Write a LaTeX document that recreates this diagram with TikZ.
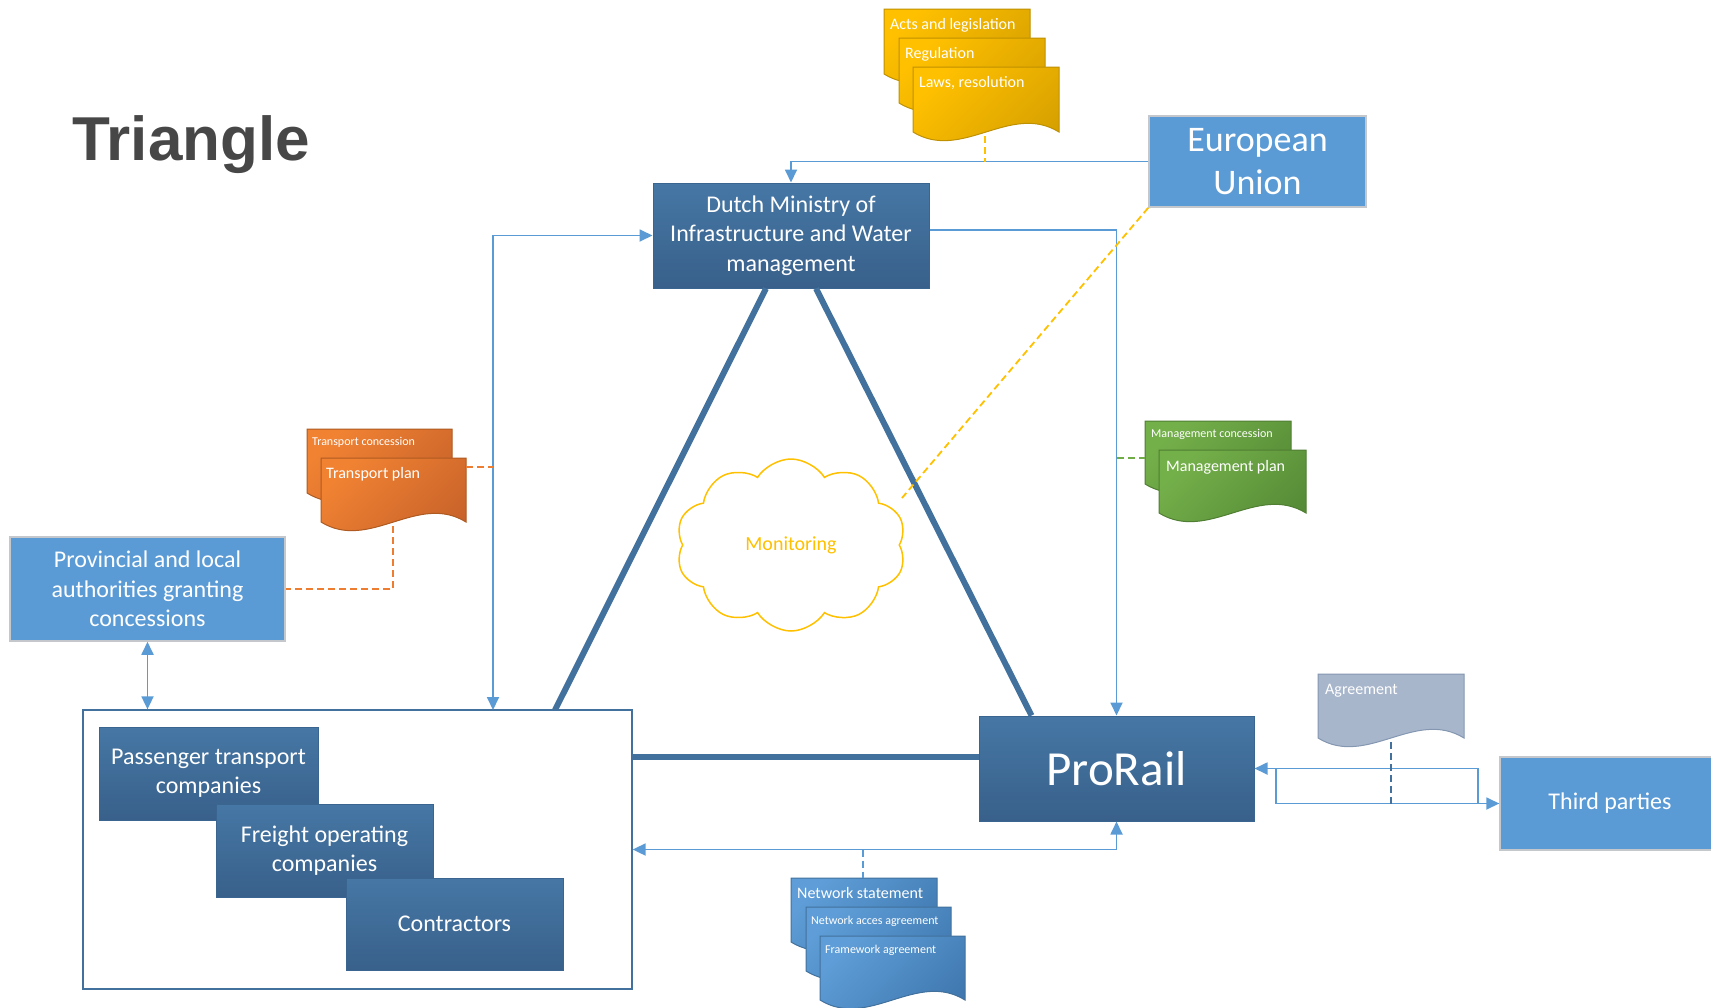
\documentclass[tikz,border=0pt]{standalone}
\usepackage{fontspec}
\setmainfont{Carlito}
\newfontfamily\titlefont{Liberation Sans}
\usetikzlibrary{arrows.meta,shapes.symbols,calc}
\definecolor{lblue}{HTML}{5B9BD5}
\definecolor{lightedge}{HTML}{C4C8CC}
\definecolor{dboxtop}{HTML}{4677A5}
\definecolor{dboxbot}{HTML}{38608A}
\definecolor{dboxedge}{HTML}{3A6590}
\definecolor{triblue}{HTML}{41719C}
\definecolor{ytop}{HTML}{FFC000}
\definecolor{ybot}{HTML}{D6A000}
\definecolor{yedge}{HTML}{BF9000}
\definecolor{otop}{HTML}{F08232}
\definecolor{obot}{HTML}{C8622A}
\definecolor{oedge}{HTML}{AE5A21}
\definecolor{orangel}{HTML}{ED7D31}
\definecolor{gtop}{HTML}{74B04A}
\definecolor{gbot}{HTML}{558A36}
\definecolor{gedge}{HTML}{507E32}
\definecolor{greenl}{HTML}{70AD47}
\definecolor{agfill}{HTML}{A8B6CC}
\definecolor{agedge}{HTML}{8497B0}
\definecolor{ntop}{HTML}{5E9DD7}
\definecolor{nbot}{HTML}{3F77AE}
\definecolor{nedge}{HTML}{41719C}
\definecolor{titlegray}{HTML}{474747}
\newcommand\docshape[5]{%
  \path[#1] (#2,#3) -- ({#2+#4},#3) -- ({#2+#4},{#3+#5})
    .. controls ({#2+#4*2/3},{#3+#5-30}) and ({#2+#4/3},{#3+#5+30}) .. (#2,{#3+#5}) -- cycle;}
\newcommand\fsz[2]{\fontsize{#1}{#2}\selectfont}
\tikzset{
  darkbox/.style={draw=dboxedge, line width=1pt, top color=dboxtop, bottom color=dboxbot,
    text=white, align=center, inner sep=0pt},
  lightbox/.style={draw=lightedge, line width=1.5pt, fill=lblue, text=white, align=center, inner sep=0pt},
  conn/.style={draw=lblue, line width=1.8pt},
  triline/.style={draw=triblue, line width=6pt},
  dashy/.style={dash pattern=on 7pt off 4pt, line width=1.8pt},
  doctext/.style={anchor=base west, inner sep=0pt, text=white},
  ydoc/.style={draw=yedge, line width=1pt, top color=ytop, bottom color=ybot, shading angle=45},
  odoc/.style={draw=oedge, line width=1pt, top color=otop, bottom color=obot, shading angle=45},
  gdoc/.style={draw=gedge, line width=1pt, top color=gtop, bottom color=gbot, shading angle=45},
  adoc/.style={draw=agedge, line width=1pt, fill=agfill},
  ndoc/.style={draw=nedge, line width=1pt, top color=ntop, bottom color=nbot, shading angle=45},
  >={Triangle[length=13pt,width=12pt]}
}
\begin{document}
\begin{tikzpicture}[x=1pt,y=-1pt]
\useasboundingbox (0,0) rectangle (1711,1007);

% title
\node[anchor=base west, inner sep=0pt, text=titlegray, font=\titlefont\bfseries\fsz{62}{70}] (title) at (72,160) {Triangle};

% main boxes
\node[darkbox, minimum width=276pt, minimum height=105pt, font=\fsz{24}{29.5}] (min) at (791,235.5)
  {Dutch Ministry of\\Infrastructure and Water\\management};
\node[lightbox, minimum width=217pt, minimum height=91pt, font=\fsz{36}{43.5}] (eu) at (1257.5,161.5)
  {European\\Union};
\node[darkbox, minimum width=275pt, minimum height=105pt, font=\fsz{49}{56}] (pro) at (1116.5,768.5)
  {ProRail};
\node[lightbox, minimum width=220pt, minimum height=93pt, font=\fsz{24}{29}] (third) at (1610,803.5)
  {Third parties};
\node[lightbox, minimum width=275pt, minimum height=104pt, font=\fsz{24}{29.5}] (prov) at (147.5,589)
  {Provincial and local\\authorities granting\\concessions};

% triangle
\draw[triline] ([xshift=-25pt]min.south) -- (555,710);
\draw[triline] ([xshift=25pt]min.south) -- ([xshift=-85pt]pro.north);

% operators group
\node[draw=triblue, line width=1.3pt, fill=white, minimum width=549pt, minimum height=279pt, inner sep=0pt] (grp) at (357.5,849.5) {};
\node[darkbox, minimum width=219pt, minimum height=93pt, font=\fsz{24}{29}] (pass) at (208.5,773.5)
  {Passenger transport\\companies};
\node[darkbox, minimum width=217pt, minimum height=93pt, font=\fsz{24}{29}] (frt) at (324.5,850.5)
  {Freight operating\\companies};
\node[darkbox, minimum width=217pt, minimum height=92pt, font=\fsz{24}{29}] (contr) at (454.5,924)
  {Contractors};
\draw[triline] (grp.east |- 0,757) -- (pro.west |- 0,757);

% cloud
\node[cloud, draw=ytop, line width=1.5pt, cloud puffs=10, cloud puff arc=115, cloud ignores aspect,
  minimum width=230pt, minimum height=172pt, text=ytop, font=\fsz{20}{24}] (mon) at (791,545) {Monitoring};
\coordinate (cloudtip) at (902,498);

% document stacks
\docshape{ydoc}{884}{9}{146}{65}
\node[doctext, font=\fsz{16}{19}] (acts) at (890,29) {Acts and legislation};
\docshape{ydoc}{899}{38}{146}{65}
\node[doctext, font=\fsz{16}{19}] (reg) at (905,58) {Regulation};
\docshape{ydoc}{913}{67}{146}{65}
\node[doctext, font=\fsz{16}{19}] (laws) at (919,87) {Laws, resolution};

\docshape{odoc}{307}{429}{145}{64}
\node[doctext, font=\fsz{12}{14}] (tcon) at (312,445) {Transport concession};
\docshape{odoc}{321}{458}{145}{64}
\node[doctext, font=\fsz{16}{19}] (tplan) at (326,478) {Transport plan};

\docshape{gdoc}{1145}{421}{146}{63}
\node[doctext, font=\fsz{12}{14}] (mcon) at (1151,437) {Management concession};
\docshape{gdoc}{1159}{450}{147}{63}
\node[doctext, font=\fsz{16}{19}] (mplan) at (1166,471) {Management plan};

\docshape{adoc}{1318}{674}{146}{64}
\node[doctext, font=\fsz{16}{19}] (agr) at (1325,694) {Agreement};

\docshape{ndoc}{791}{878}{146}{64}
\node[doctext, font=\fsz{16}{19}] (nst) at (797,898) {Network statement};
\docshape{ndoc}{806}{907}{145}{64}
\node[doctext, font=\fsz{12}{14}] (nacc) at (811,924) {Network acces agreement};
\docshape{ndoc}{820}{936}{145}{64}
\node[doctext, font=\fsz{12}{14}] (fwa) at (825,953) {Framework agreement};

% connectors
\draw[conn,->] (eu.west) -| (min.north);
\draw[conn,<->] (min.west) -| (493,710);
\draw[conn,->] ([yshift=5.5pt]min.east) -| (pro.north);
\draw[conn,<->] (grp.east) -| (pro.south);
\draw[conn,<->] (prov.south) -- (prov.south |- grp.north);
\draw[conn,->] (pro.east) -- (1478,768.5) |- (third.west);
\draw[conn,->] (third.west) -- (1276,803.5) |- (pro.east);

% dashed links
\coordinate (lawsbot) at (985,136);
\coordinate (planr) at (466,467);
\coordinate (planb) at (393,526);
\coordinate (mconl) at (1145,458);
\coordinate (agrb) at (1391,742);
\coordinate (nstt) at (863,878);
\draw[dashy, draw=ytop] (lawsbot) -- (985,162);
\draw[dashy, draw=orangel] (planr) -- (493,467);
\draw[dashy, draw=orangel] (planb) |- (prov.east);
\draw[dashy, draw=greenl] (1117,458) -- (mconl);
\draw[dashy, draw=triblue] (agrb) -- (1391,803.5);
\draw[dashy, draw=lblue] (863,849.5) -- (nstt);
\draw[dashy, draw=ytop] (eu.south west) -- (cloudtip);
\end{tikzpicture}
\end{document}
